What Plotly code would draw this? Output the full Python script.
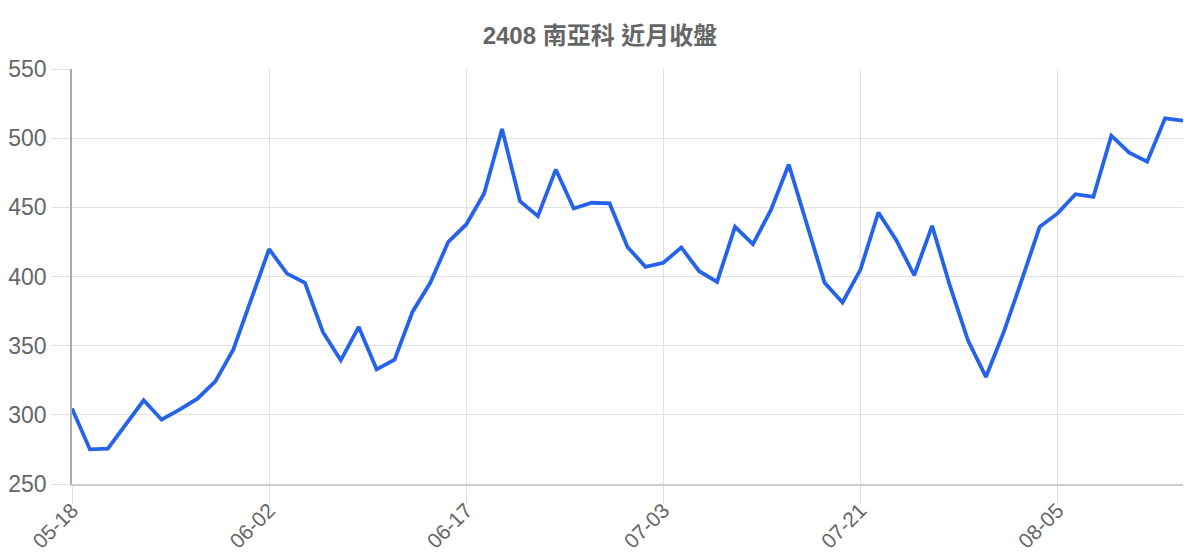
import plotly.graph_objects as go

# trading days shown on the x axis (MM-DD)
dates = [
    "05-18", "05-19", "05-20", "05-21", "05-22", "05-25", "05-26", "05-27", "05-28", "05-29",
    "06-01", "06-02", "06-03", "06-04", "06-05", "06-08", "06-09", "06-10", "06-11", "06-12",
    "06-15", "06-16", "06-17", "06-18", "06-19", "06-22", "06-23", "06-24", "06-26", "06-29",
    "06-30", "07-01", "07-02", "07-03", "07-06", "07-07", "07-08", "07-09", "07-13", "07-14",
    "07-15", "07-16", "07-17", "07-20", "07-21", "07-22", "07-23", "07-24", "07-27", "07-28",
    "07-29", "07-30", "07-31", "08-03", "08-04", "08-05", "08-06", "08-07", "08-10", "08-11",
    "08-12", "08-13", "08-14",
]

# closing prices
close = [
    304.5, 275.0, 275.5, 293.0, 310.5, 296.5, 303.7, 311.7, 324.2, 347.1,
    382.8, 419.8, 402.1, 395.4, 359.9, 339.4, 363.5, 332.9, 339.9, 374.4,
    395.6, 425.1, 437.6, 460.0, 506.6, 454.5, 443.6, 477.4, 449.2, 453.3,
    452.8, 421.4, 407.0, 409.9, 421.0, 403.8, 396.1, 435.9, 423.4, 448.0,
    481.0, 438.0, 395.4, 381.2, 405.0, 446.3, 426.3, 400.9, 436.6, 393.0,
    353.9, 327.4, 360.0, 397.3, 435.9, 445.6, 459.5, 457.6, 501.8, 489.5,
    483.0, 514.3, 512.6,
]

title = "2408 南亞科 近月收盤"
tick_every = 11

fig = go.Figure()
fig.add_trace(go.Scatter(
    x=dates, y=close, mode="lines",
    line=dict(color="#2563eb", width=3.8),
    hoverinfo="x+y",
))

# page body has an 8px margin, so the figure is a bit smaller than the window
fig.update_layout(
    width=1184, height=552,
    margin=dict(l=64, r=9, t=61, b=76),
    paper_bgcolor="white", plot_bgcolor="white",
    showlegend=False,
    font=dict(family="Liberation Sans, Arial, sans-serif", color="#666666"),
    title=dict(
        text="<b>" + title + "</b>",
        x=0.5, xanchor="center", y=1 - 28 / 552, yanchor="middle",
        font=dict(size=24, color="#666666",
                  family="Liberation Sans, Noto Sans CJK TC, sans-serif"),
    ),
)

fig.update_xaxes(
    type="category",
    tickmode="array", tickvals=dates[::tick_every],
    tickangle=-45,
    tickfont=dict(size=21, color="#666666"),
    ticklabelstandoff=-14,
    showgrid=True, gridcolor="#e0e0e0", gridwidth=1,
    ticks="outside", ticklen=18, tickcolor="#e0e0e0",
    showline=True, linecolor="#cccccc", linewidth=1.5,
    range=[0, len(dates) - 1],
    zeroline=False, automargin=False,
)

fig.update_yaxes(
    range=[250, 550], dtick=50,
    tickfont=dict(size=23, color="#666666"),
    showgrid=True, gridcolor="#e0e0e0", gridwidth=1,
    ticks="outside", ticklen=19, tickcolor="#e0e0e0",
    showline=True, linecolor="#aaaaaa", linewidth=1.5,
    zeroline=False, automargin=False,
)

fig.write_html("out.html")
